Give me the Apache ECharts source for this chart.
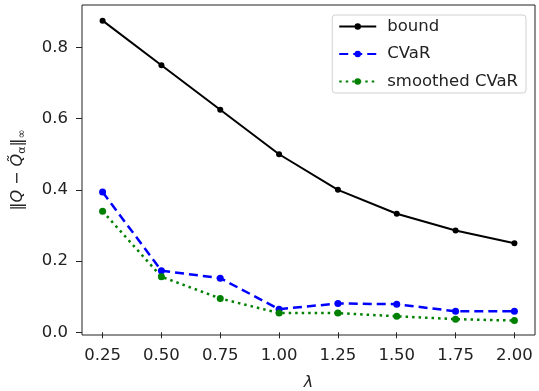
<!DOCTYPE html>
<html>
<head>
<meta charset="utf-8">
<script src="https://cdn.jsdelivr.net/npm/echarts@6/dist/echarts.min.js"></script>
<style>html,body{margin:0;padding:0;background:#fff}#c{width:539px;height:391px}</style>
</head>
<body>
<div id="c"></div>
<script>
const lambdas = [0.25, 0.50, 0.75, 1.00, 1.25, 1.50, 1.75, 2.00];
const xTickLabels = ['0.25','0.50','0.75','1.00','1.25','1.50','1.75','2.00'];
const yTicks = [0.0, 0.2, 0.4, 0.6, 0.8];
const bound = [0.875, 0.75, 0.625, 0.5, 0.4, 0.333, 0.286, 0.25];
const cvar = [0.394, 0.173, 0.152, 0.065, 0.081, 0.079, 0.059, 0.059];
const smoothed = [0.340, 0.156, 0.095, 0.054, 0.054, 0.045, 0.037, 0.033];

const pairs = a => lambdas.map((x, i) => [x, a[i]]);
const font = 'DejaVu Sans';
const fs = 16.5;
const chart = echarts.init(document.getElementById('c'));
chart.setOption({
  animation: false,
  textStyle: {fontFamily: font},
  grid: {left: 82, right: 4, top: 5, bottom: 56, outerBoundsMode: 'none', containLabel: false,
    show: true, borderColor: '#222', borderWidth: 1, backgroundColor: 'transparent'},
  legend: {
    right: 13, top: 15, orient: 'vertical', itemWidth: 37, itemHeight: 8, itemGap: 10.5,
    padding: [3, 8, 3, 6],
    borderColor: '#d0d0d0', borderWidth: 1, borderRadius: 3,
    textStyle: {fontFamily: font, fontSize: fs, color: '#222', padding: [0, 0, 0, 6]},
    data: ['bound', 'CVaR', 'smoothed CVaR']
  },
  xAxis: {
    type: 'value', min: 0.1625, max: 2.0875,
    name: 'λ', nameLocation: 'middle', nameGap: 40,
    nameTextStyle: {fontFamily: font, fontSize: 16, fontStyle: 'italic', color: '#222'},
    axisLine: {show: false},
    splitLine: {show: false},
    axisTick: {show: true, length: 6, lineStyle: {color: '#222'}, customValues: lambdas},
    axisLabel: {fontSize: fs, color: '#222', margin: 12, customValues: lambdas,
      formatter: v => { const i = lambdas.findIndex(l => Math.abs(l - v) < 1e-9); return i >= 0 ? xTickLabels[i] : ''; }}
  },
  yAxis: {
    type: 'value', min: -0.0075, max: 0.919,
    name: '{n|‖}{i|Q}{n| − }{i|Q̃}{s|α}{n|‖}{s|∞}', nameLocation: 'middle', nameGap: 54, nameRotate: 90,
    nameTextStyle: {rich: {
      n: {fontFamily: font, fontSize: 16, color: '#222'},
      i: {fontFamily: font, fontSize: 16, fontStyle: 'italic', color: '#222'},
      s: {fontFamily: font, fontSize: 11, color: '#222', padding: [9, 0, 0, 0]}
    }},
    axisLine: {show: false},
    splitLine: {show: false},
    axisTick: {show: true, length: 6, lineStyle: {color: '#222'}, customValues: yTicks},
    axisLabel: {fontSize: fs, color: '#222', margin: 14, customValues: yTicks, formatter: v => v.toFixed(1)}
  },
  series: [
    {name: 'bound', type: 'line', data: pairs(bound), symbol: 'circle', symbolSize: 6,
      lineStyle: {color: '#000', width: 2}, itemStyle: {color: '#000'}},
    {name: 'CVaR', type: 'line', data: pairs(cvar), symbol: 'circle', symbolSize: 7,
      lineStyle: {color: '#0000ff', width: 2.5, type: [9, 5]}, itemStyle: {color: '#0000ff'}},
    {name: 'smoothed CVaR', type: 'line', data: pairs(smoothed), symbol: 'circle', symbolSize: 7,
      lineStyle: {color: '#008000', width: 2.5, type: [2.5, 4]}, itemStyle: {color: '#008000'}}
  ]
});
</script>
</body>
</html>
